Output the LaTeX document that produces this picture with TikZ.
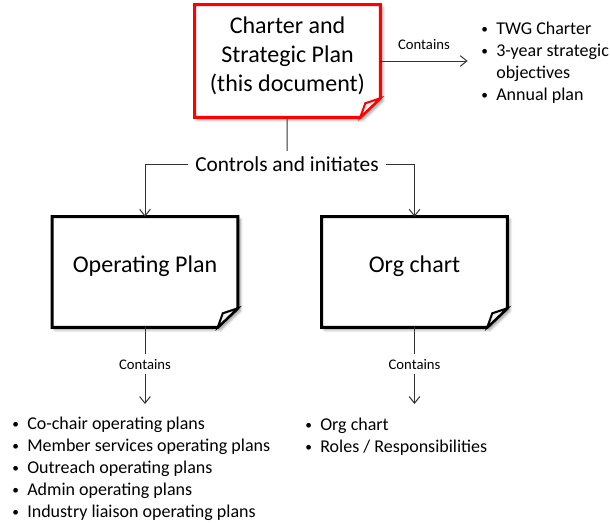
\documentclass[tikz,border=0pt]{standalone}
\usepackage{fontspec}
\setmainfont{Carlito}
\usetikzlibrary{arrows.meta,shadows.blur}
\pgfdeclarelayer{background}
\pgfsetlayers{background,main}

\tikzset{
    docbox/.style={minimum width=138.75pt, minimum height=82.5pt, inner sep=0pt},
    doctext/.style={align=center, yshift=4pt, font=\fontsize{18}{21.75}\selectfont},
    docline/.style={line width=2.25pt, line join=miter, fill=white},
    link/.style={line width=0.75pt, draw=black!80},
    tip/.style={link, -{Straight Barb[length=5pt,width=8pt]}},
    small/.style={font=\fontsize{11}{13}\selectfont},
    bullets/.style={anchor=west, inner sep=0pt, align=left,
        font=\fontsize{13.5}{16.5}\selectfont}
}

% page shape with a folded corner, drawn behind the node #1 in colour #2
\newcommand{\drawdoc}[2]{
    \begin{pgfonlayer}{background}
        \draw[docline, draw=#2, blur shadow={shadow xshift=2pt, shadow yshift=-2pt,
                shadow blur steps=5, shadow opacity=40}]
            (#1.north west) -- (#1.north east)
            -- ([yshift=14.25pt]#1.south east) -- ([xshift=-15pt]#1.south east)
            -- (#1.south west) -- cycle;
        \draw[docline, draw=#2, line width=1.5pt, fill=black!6]
            ([yshift=14.25pt]#1.south east) -- ([xshift=-11.25pt,yshift=10.5pt]#1.south east)
            -- ([xshift=-15pt]#1.south east) -- cycle;
    \end{pgfonlayer}
}

% bullet item inside the lists
\newcommand{\bul}{\makebox[11.25pt][l]{\raisebox{1pt}{\fontsize{10}{10}\selectfont\textbullet}}}

\begin{document}
\begin{tikzpicture}[x=0.75pt, y=-0.75pt]
    \useasboundingbox (0,0) rectangle (610,522);

    % the three documents
    \node[docbox, minimum height=84pt,
        label={[doctext]center:Charter and\\Strategic Plan\\(this document)}] (charter) at (287.5,61) {};
    \node[docbox, label={[doctext]center:Operating Plan}] (opplan) at (145,272) {};
    \node[docbox, label={[doctext]center:Org chart}] (orgchart) at (414.5,272) {};
    \drawdoc{charter}{red}
    \drawdoc{opplan}{black}
    \drawdoc{orgchart}{black}

    % contents of the charter
    \node[bullets] (topList) at (481,63) {%
        \begin{tabular}{@{}l@{}l@{}}
            \bul & TWG Charter\\
            \bul & 3-year strategic\\
                 & objectives\\
            \bul & Annual plan
        \end{tabular}};
    \draw[tip] (charter.east) -- ([xshift=-10pt]charter.east -| topList.west)
        node[midway, above=5pt, small] {Contains};

    % control of the lower documents
    \node[font=\fontsize{16}{19}\selectfont, inner xsep=5pt, inner ysep=4pt] (ctrl) at (287,164) {Controls and initiates};
    \draw[link] (charter) -- (ctrl);
    \draw[tip] (ctrl.west) -| (opplan);
    \draw[tip] (ctrl.east) -| (orgchart);

    % contents of the operating plan
    \node[small] (contA) at (145,364) {Contains};
    \coordinate (endA) at (145,404);
    \draw[link] (opplan) -- (contA);
    \draw[tip] (contA) -- (endA);
    \node[bullets] (listA) at (12,469.5) {%
        \begin{tabular}{@{}l@{}l@{}}
            \bul & Co-chair operating plans\\
            \bul & Member services operating plans\\
            \bul & Outreach operating plans\\
            \bul & Admin operating plans\\
            \bul & Industry liaison operating plans
        \end{tabular}};

    % contents of the org chart
    \node[small] (contB) at (414.5,364) {Contains};
    \coordinate (endB) at (414.5,404);
    \draw[link] (orgchart) -- (contB);
    \draw[tip] (contB) -- (endB);
    \node[bullets] (listB) at (305,437.5) {%
        \begin{tabular}{@{}l@{}l@{}}
            \bul & Org chart\\
            \bul & Roles / Responsibilities
        \end{tabular}};
\end{tikzpicture}
\end{document}
